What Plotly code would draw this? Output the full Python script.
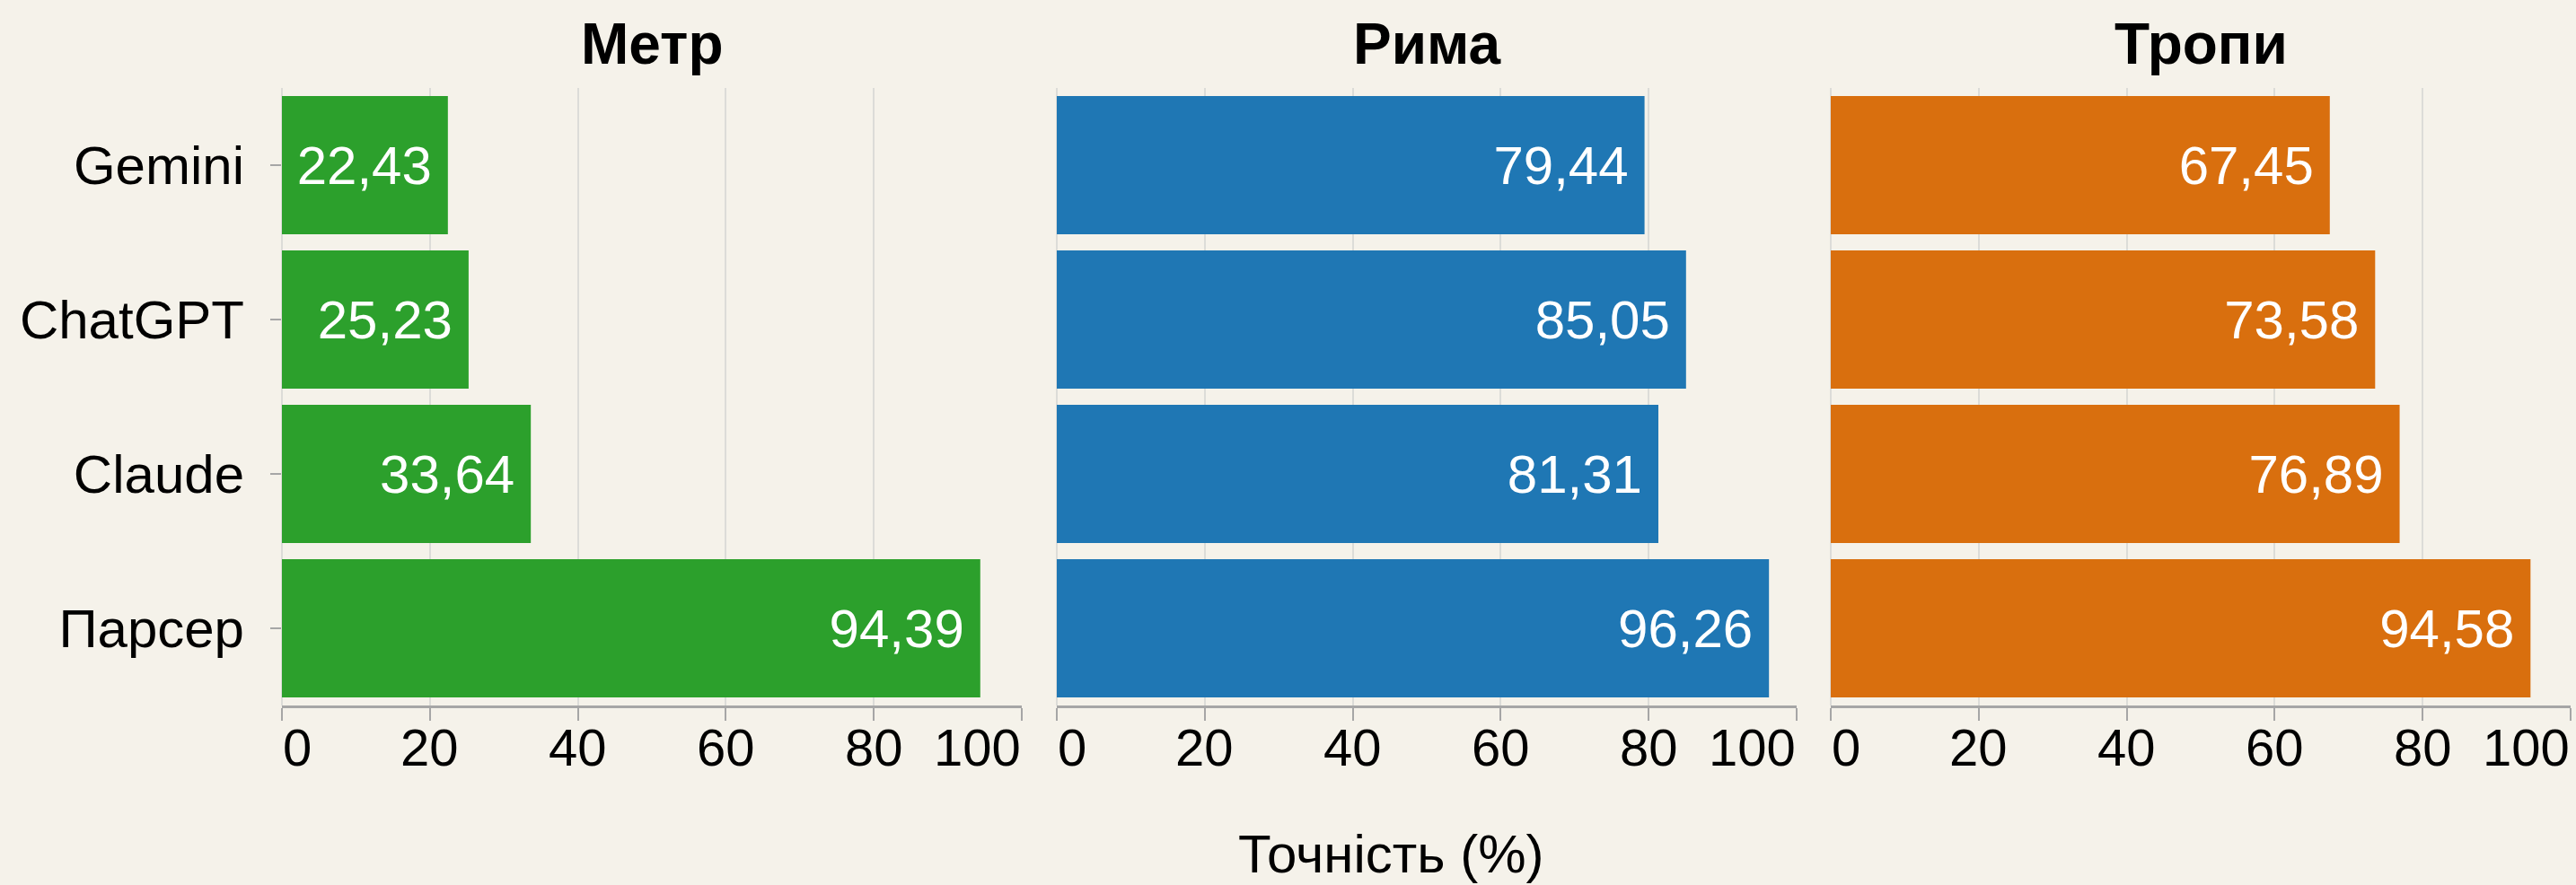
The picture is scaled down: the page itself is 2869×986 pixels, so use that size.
import plotly.graph_objects as go

models = ["Gemini", "ChatGPT", "Claude", "Парсер"]
panel_titles = ["Метр", "Рима", "Тропи"]
metr_values = [22.43, 25.23, 33.64, 94.39]
ryma_values = [79.44, 85.05, 81.31, 96.26]
tropy_values = [67.45, 73.58, 76.89, 94.58]
panel_colors = ["#2ca02c", "#1f77b4", "#d96f0e"]
x_tick_values = [0, 20, 40, 60, 80, 100]
x_tick_labels = ["0", "20", "40", "60", "80", "100"]
x_axis_title = "Точність (%)"

W, H = 2869, 986
ML, MR, MT, MB = 314, 6, 98, 200
PW = W - ML - MR
PH = H - MT - MB
domains = [
    [0.0, (1138 - 314) / PW],
    [(1177 - 314) / PW, (2001 - 314) / PW],
    [(2039 - 314) / PW, 1.0],
]

BG = "#f5f2ea"
GRID = "#dcdcd8"
AXIS = "#a6a6a6"
FONT = "Liberation Sans, Arial, sans-serif"

fig = go.Figure()
series = [metr_values, ryma_values, tropy_values]
for i, (vals, col) in enumerate(zip(series, panel_colors)):
    sfx = "" if i == 0 else str(i + 1)
    labels = [f"{v:.2f}".replace(".", ",") + "\u2005" for v in vals]
    fig.add_trace(go.Bar(
        x=vals, y=models, orientation="h",
        marker=dict(color=col, line=dict(width=0)),
        text=labels, textposition="inside", insidetextanchor="end",
        textfont=dict(color="white", size=60, family=FONT),
        xaxis="x" + sfx, yaxis="y" + sfx, showlegend=False,
        hoverinfo="skip",
    ))

layout = dict(
    width=W, height=H,
    margin=dict(l=ML, r=MR, t=MT, b=MB, pad=0, autoexpand=False),
    paper_bgcolor=BG, plot_bgcolor=BG,
    font=dict(family=FONT, color="black"),
    bargap=0.105,
    showlegend=False,
)

annotations = []
for i in range(3):
    sfx = "" if i == 0 else str(i + 1)
    layout["xaxis" + sfx] = dict(
        domain=domains[i], range=[0, 100], anchor="y" + sfx,
        tickmode="array", tickvals=x_tick_values,
        showticklabels=False, automargin=False,
        ticks="outside", ticklen=14, tickwidth=2, tickcolor=AXIS,
        showline=True, linecolor=AXIS, linewidth=3,
        showgrid=True, gridcolor=GRID, gridwidth=2,
        zeroline=True, zerolinecolor=GRID, zerolinewidth=2,
        fixedrange=True,
    )
    layout["yaxis" + sfx] = dict(
        domain=[0, 1], anchor="x" + sfx,
        type="category", categoryorder="array", categoryarray=models,
        autorange="reversed", automargin=False,
        showticklabels=(i == 0),
        ticks="outside" if i == 0 else "", ticklen=12, tickwidth=2, tickcolor=AXIS,
        showline=False, showgrid=False, zeroline=False,
        tickfont=dict(size=60, color="black", family=FONT),
        ticklabelstandoff=17,
        fixedrange=True,
    )
    # x tick labels: first flush left, last flush right (as in reference)
    for j, (v, t) in enumerate(zip(x_tick_values, x_tick_labels)):
        if j == 0:
            anchor = "left"
        elif j == len(x_tick_values) - 1:
            anchor = "right"
        else:
            anchor = "center"
        annotations.append(dict(
            text=t, xref="x" + sfx, yref="paper", x=v, y=0,
            xanchor=anchor, yanchor="top", yshift=-13,
            showarrow=False, borderpad=0,
            font=dict(size=58, color="black", family=FONT),
        ))

for i, t in enumerate(panel_titles):
    sfx = "" if i == 0 else str(i + 1)
    annotations.append(dict(
        text=f"<b>{t}</b>", xref=f"x{sfx} domain", yref="paper",
        x=0.5, y=1 + (98 - 49) / PH, xanchor="center", yanchor="middle",
        showarrow=False, font=dict(size=64, color="black", family=FONT),
    ))
annotations.append(dict(
    text=x_axis_title, xref="paper", yref="paper",
    x=(1549 - ML) / PW, y=-(950 - 785) / PH,
    xanchor="center", yanchor="middle", showarrow=False,
    font=dict(size=60, color="black", family=FONT),
))
layout["annotations"] = annotations

fig.update_layout(**layout)
fig.write_html(
    "out.html",
    config={"displayModeBar": False},
    post_script="document.body.style.margin='0';document.body.style.background='%s';" % BG,
)
